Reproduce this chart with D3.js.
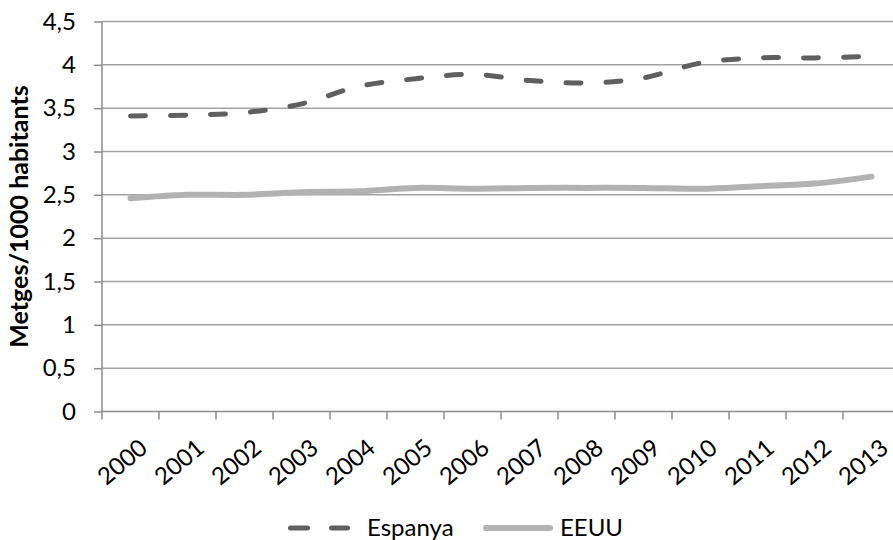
<!DOCTYPE html>
<html>
<head>
<meta charset="utf-8">
<script src="https://cdn.jsdelivr.net/npm/d3@7"></script>
<style>
  body { margin: 0; background: #fff; overflow: hidden; }
  svg text { font-family: Lato, "Open Sans", sans-serif; fill: #000; }
</style>
</head>
<body>
<div id="chart"></div>
<script>
const years = ["2000","2001","2002","2003","2004","2005","2006","2007","2008","2009","2010","2011","2012","2013"];
const espanya = [3.41, 3.42, 3.45, 3.55, 3.75, 3.84, 3.89, 3.82, 3.79, 3.85, 4.02, 4.08, 4.08, 4.10];
const eeuu = [2.46, 2.50, 2.50, 2.53, 2.54, 2.58, 2.57, 2.58, 2.58, 2.58, 2.57, 2.60, 2.63, 2.71];
const yTicks = [0, 0.5, 1, 1.5, 2, 2.5, 3, 3.5, 4, 4.5];

const W = 893, H = 540;
const margin = {top: 21.5, left: 102, bottom: 128.5};
const plotW = 798; // 14 categories, the last one runs past the right edge
const height = H - margin.top - margin.bottom;
const fontSize = 24;

const svg = d3.select("#chart").append("svg")
  .attr("width", W).attr("height", H);
const g = svg.append("g").attr("transform", `translate(${margin.left},${margin.top})`);

const x = d3.scaleBand().domain(years).range([0, plotW]);
const y = d3.scaleLinear().domain([0, 4.5]).range([height, 0]);
const fmt = d => String(d).replace(".", ",");
const axisColor = "#8c8c8c";

// gridlines
g.append("g").selectAll("line").data(yTicks.filter(d => d > 0)).enter().append("line")
  .attr("x1", 0).attr("x2", plotW)
  .attr("y1", d => y(d)).attr("y2", d => y(d))
  .attr("stroke", "#a3a3a3").attr("stroke-width", 1.5);

// y axis
const yAxis = g.append("g").call(d3.axisLeft(y).tickValues(yTicks).tickFormat(fmt).tickSize(8).tickPadding(18));
yAxis.select(".domain").attr("stroke", axisColor).attr("stroke-width", 1.5).attr("d", `M0,${height}V0`);
yAxis.selectAll(".tick line").attr("stroke", axisColor).attr("stroke-width", 1.5);
yAxis.selectAll("text").style("font-size", fontSize + "px").style("font-family", "Lato, sans-serif");

// x axis
const xAxis = g.append("g").attr("transform", `translate(0,${height})`)
  .call(d3.axisBottom(x).tickSize(0).tickPadding(0));
xAxis.select(".domain").attr("stroke", axisColor).attr("stroke-width", 1.5).attr("d", `M0,0H${plotW}`);
xAxis.append("g").selectAll("line").data(years).enter().append("line")
  .attr("x1", d => x(d)).attr("x2", d => x(d))
  .attr("y1", 0).attr("y2", 8).attr("stroke", axisColor).attr("stroke-width", 1.5);
xAxis.selectAll(".tick text")
  .style("font-size", fontSize + "px").style("font-family", "Lato, sans-serif")
  .attr("text-anchor", "end").attr("dy", 0).attr("y", 0)
  .attr("transform", `translate(${x.bandwidth() / 2 - 10},39) rotate(-40)`);

// y axis title
svg.append("text")
  .attr("transform", `translate(28,${margin.top + height / 2}) rotate(-90)`)
  .attr("text-anchor", "middle")
  .style("font-size", "25px").style("font-weight", "bold")
  .text("Metges/1000 habitants");

// lines
const line = d3.line()
  .x((d, i) => x(years[i]) + x.bandwidth() / 2)
  .y(d => y(d))
  .curve(d3.curveCatmullRom.alpha(0.5));
g.append("path").datum(eeuu).attr("d", line)
  .attr("fill", "none").attr("stroke", "#b2b2b2").attr("stroke-width", 6).attr("stroke-linecap", "round");
g.append("path").datum(espanya).attr("d", line)
  .attr("fill", "none").attr("stroke", "#5f5f5f").attr("stroke-width", 5)
  .attr("stroke-linecap", "round").attr("stroke-dasharray", "15 25");

// legend
const lg = svg.append("g").attr("transform", "translate(0,528)");
lg.append("line").attr("x1", 290.5).attr("x2", 347.5).attr("y1", 0).attr("y2", 0)
  .attr("stroke", "#5f5f5f").attr("stroke-width", 5).attr("stroke-linecap", "round").attr("stroke-dasharray", "17 24");
lg.append("text").attr("x", 367).attr("y", 8).style("font-size", fontSize + "px").text("Espanya");
lg.append("line").attr("x1", 486).attr("x2", 550).attr("y1", 0).attr("y2", 0)
  .attr("stroke", "#b2b2b2").attr("stroke-width", 6).attr("stroke-linecap", "round");
lg.append("text").attr("x", 560).attr("y", 8).style("font-size", fontSize + "px").text("EEUU");
</script>
</body>
</html>
